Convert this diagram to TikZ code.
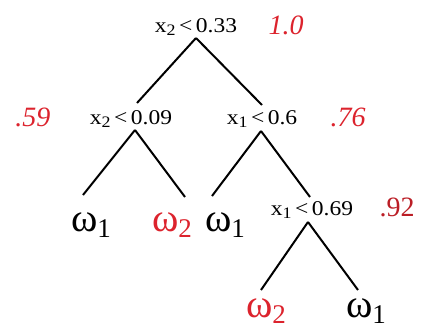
\documentclass[tikz,border=0pt]{standalone}
\usepackage{fontspec}
\setmainfont{Liberation Serif}
\newfontfamily\condfont[FakeStretch=1.12]{Liberation Serif}
\definecolor{tred}{RGB}{220,35,45}
\newcommand{\cond}[3]{{\condfont\fontsize{21}{21}\selectfont #1\raisebox{-0.35ex}{\fontsize{16}{16}\selectfont #2}\,<\,#3}}
\newcommand{\omg}[1]{{\fontsize{40}{40}\selectfont ω\raisebox{-0.3ex}{\fontsize{27}{27}\selectfont #1}}}
\begin{document}
\begin{tikzpicture}[x=1pt,y=-1pt,
  condn/.style={inner sep=0pt,anchor=center},
  leafn/.style={inner sep=0pt,anchor=center},
  prob/.style={inner sep=0pt,text=tred,font=\fontsize{28}{28}\selectfont\itshape},
  edge/.style={line width=2pt,black}]
\useasboundingbox (0,0) rectangle (424,335);
% conditions
\node[condn] (r) at (196,27) {\cond{x}{2}{0.33}};
\node[condn] (a) at (131,119) {\cond{x}{2}{0.09}};
\node[condn] (b) at (262,119) {\cond{x}{1}{0.6}};
\node[condn] (c) at (312,210) {\cond{x}{1}{0.69}};
% leaves
\node[leafn] (l1) at (91,225) {\omg{1}};
\node[leafn,text=tred] (l2) at (172,225) {\omg{2}};
\node[leafn] (l3) at (225,225) {\omg{1}};
\node[leafn,text=tred] (l4) at (266,311) {\omg{2}};
\node[leafn] (l5) at (366,311) {\omg{1}};
% probabilities
\node[prob] (p0) at (286,25) {1.0};
\node[prob] (p1) at (33,117) {.59};
\node[prob] (p2) at (348,117) {.76};
\node[prob,font=\fontsize{28}{28}\selectfont,text=tred!85!black] (p3) at (397,207) {.92};
% junction coordinates
\coordinate (ra) at (196,38);
\coordinate (at) at (137,103);
\coordinate (aa) at (135,130);
\coordinate (bt) at (262,105);
\coordinate (ba) at (261,131);
\coordinate (ca) at (308,222);
\coordinate (ct) at (310,197);
\coordinate (l1t) at (83,195);
\coordinate (l2t) at (185,197);
\coordinate (l3t) at (212,196);
\coordinate (l4t) at (261,290);
\coordinate (l5t) at (358,290);
% edges
\draw[edge] (ra) -- (at);
\draw[edge] (ra) -- (bt);
\draw[edge] (aa) -- (l1t);
\draw[edge] (aa) -- (l2t);
\draw[edge] (ba) -- (l3t);
\draw[edge] (ba) -- (ct);
\draw[edge] (ca) -- (l4t);
\draw[edge] (ca) -- (l5t);
\end{tikzpicture}
\end{document}
